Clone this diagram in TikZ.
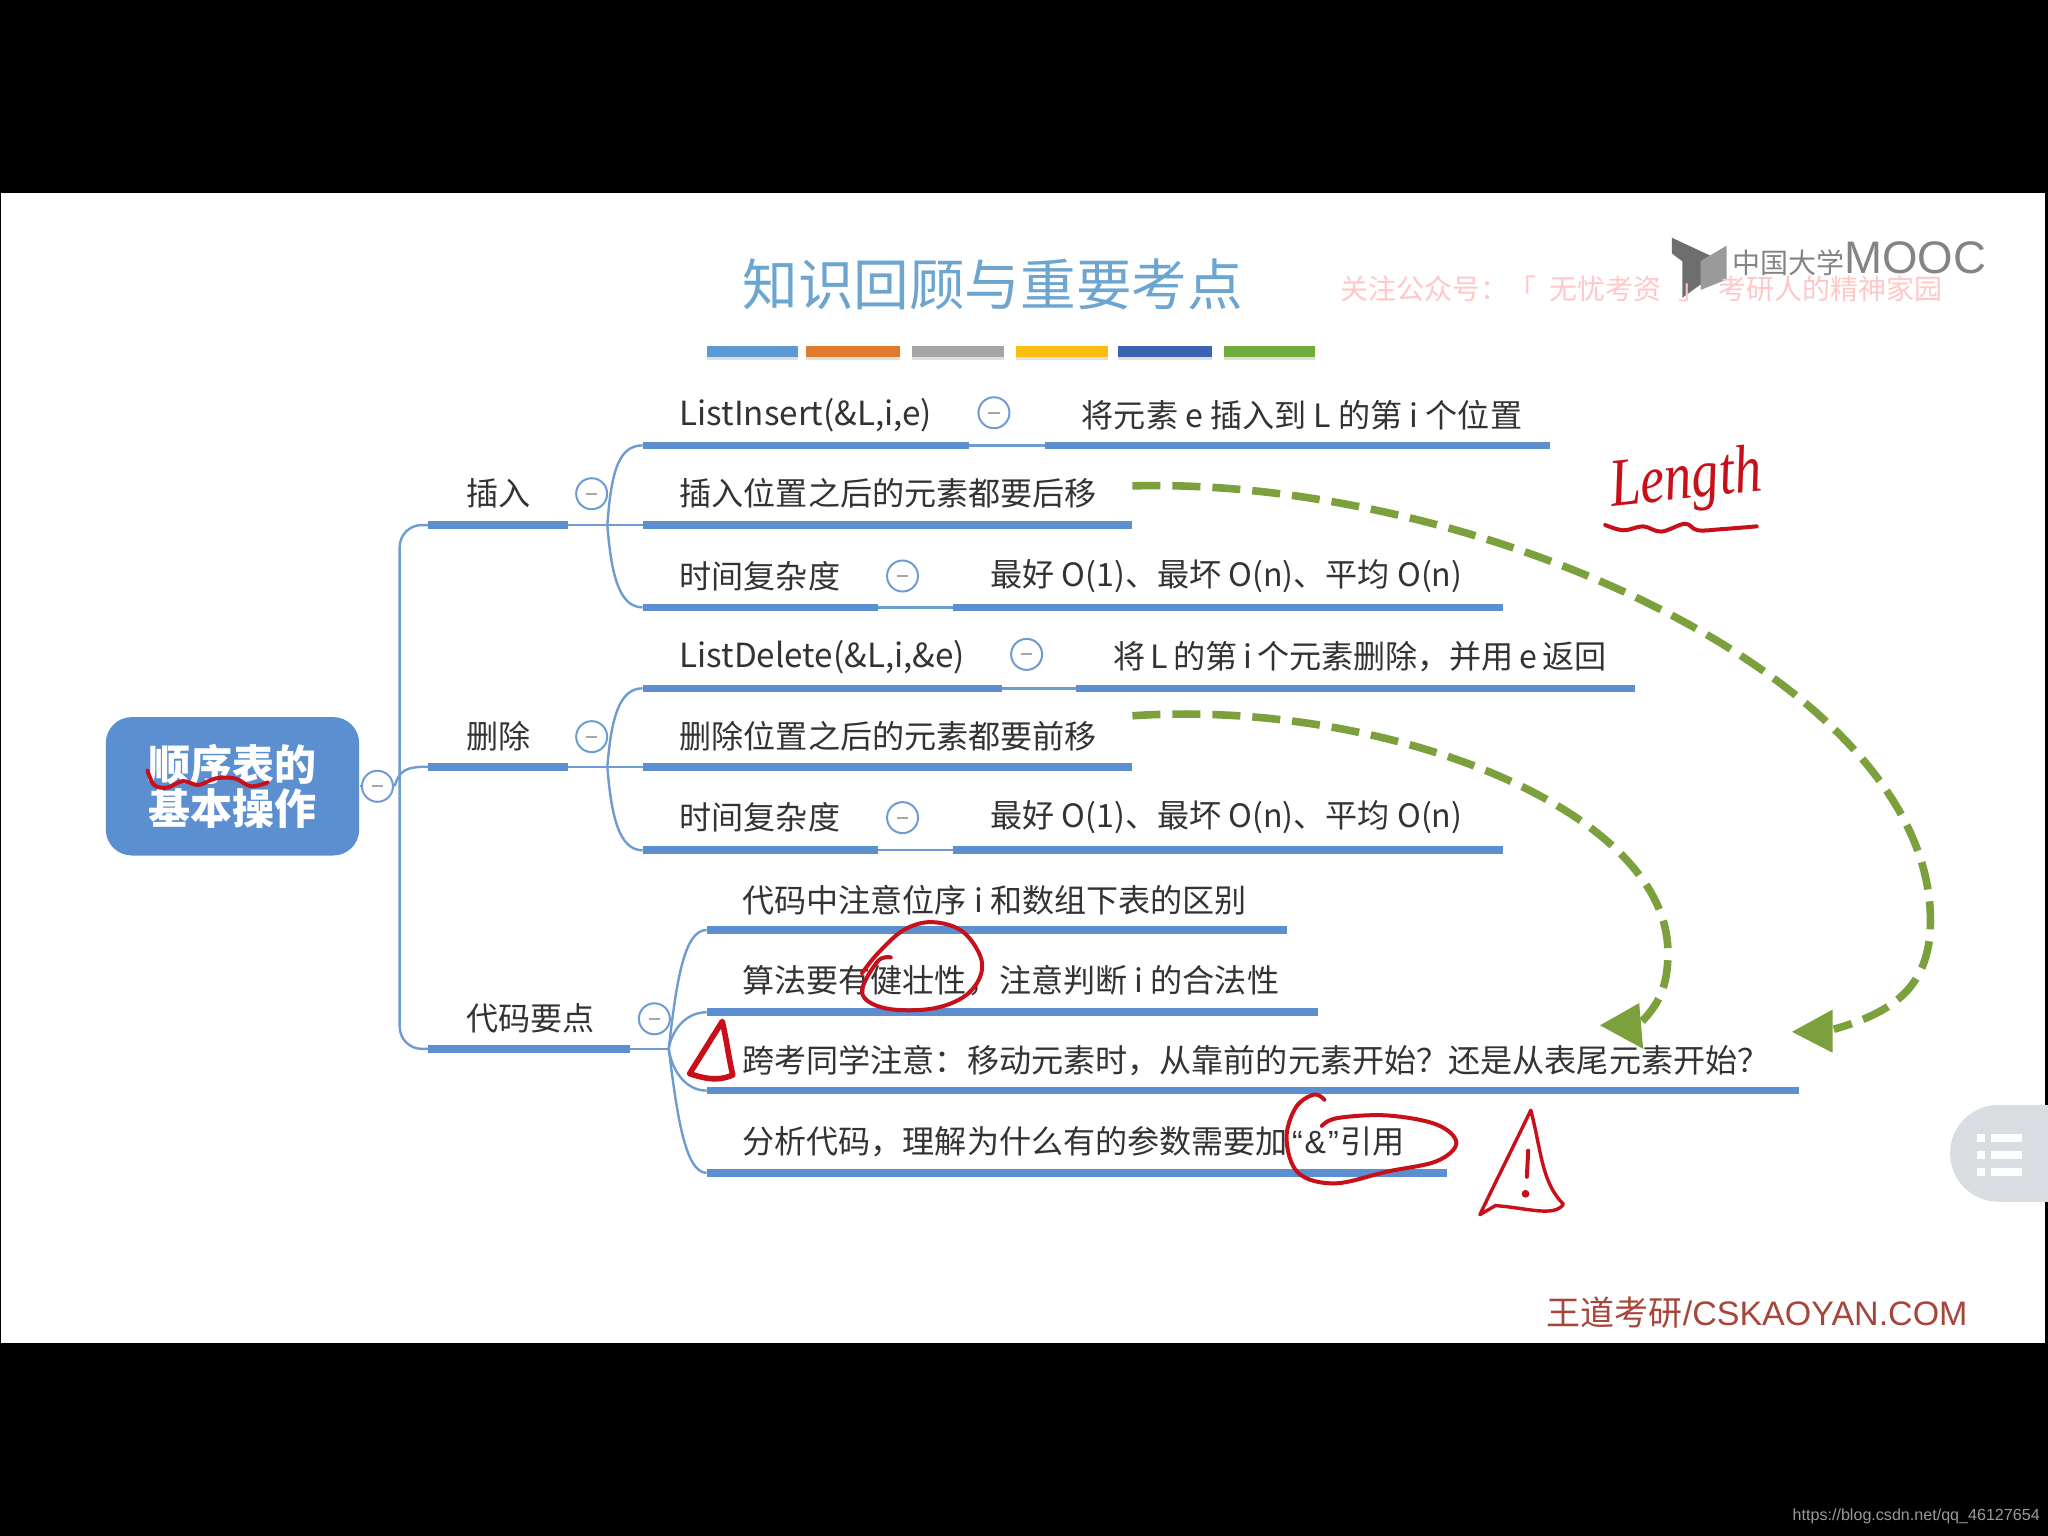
\documentclass[tikz,border=0pt]{standalone}
\usepackage{fontspec}
\setmainfont{Noto Sans CJK SC}
\newfontfamily\lat{Liberation Sans}
\newfontfamily\hand{Liberation Serif}
\definecolor{barblue}{HTML}{5B8FD0}
\definecolor{linkblue}{HTML}{6F9BD3}
\definecolor{txt}{HTML}{333333}
\definecolor{titleblue}{HTML}{6BA5D0}
\definecolor{dashgreen}{HTML}{7BA03C}
\definecolor{ink}{HTML}{C8101A}
\definecolor{pill}{HTML}{D9DCE0}
\definecolor{footc}{HTML}{A8453A}
\definecolor{logoc}{HTML}{6E6E6E}
\tikzset{
  x=0.653pt,y=-0.653pt,
  bar/.style={draw=barblue,line width=3.8pt},
  link/.style={draw=linkblue,line width=1.2pt},
  lab/.style={anchor=west,inner sep=0pt,text=txt,font=\fontsize{16.05pt}{18pt}\selectfont},
  codelab/.style={lab,font=\fontsize{16.6pt}{18pt}\selectfont},
  mc/.style={circle,draw=linkblue,line width=1pt,fill=white,minimum size=15.5pt,inner sep=0pt,
    path picture={\draw[gray!70,line width=1pt] ([xshift=-2.8pt]path picture bounding box.center)--([xshift=2.8pt]path picture bounding box.center);}},
  flow/.style={draw=dashgreen,line width=3.8pt,dash pattern=on 14pt off 6pt},
  head/.style={fill=dashgreen,draw=none},
  pen/.style={draw=ink,line width=2pt,line cap=round,line join=round},
}
\begin{document}
\begin{tikzpicture}
\useasboundingbox (0,0) rectangle (1568,1176);
\fill[black] (0,0) rectangle (1568,1176);
\fill[white] (1,148) rectangle (1566,1028);

% header
\node[inner sep=0pt,font=\fontsize{27.8pt}{30pt}\selectfont,text=titleblue] (title) at (760,218) {知识回顾与重要考点};
\fill[logoc] (1280,182) -- (1310,196) -- (1310,212) -- (1288,228) -- (1288,200) -- (1280,194) -- cycle;
\fill[logoc!70] (1302,200) -- (1322,188) -- (1322,214) -- (1302,222) -- cycle;
\node[anchor=west,inner sep=0pt,font=\fontsize{14pt}{16pt}\selectfont,text=logoc!85] (mooc) at (1326,198) {中国大学{\lat\fontsize{22.8pt}{24pt}\selectfont MOOC}};
\node[anchor=west,inner sep=0pt,font=\fontsize{14pt}{16pt}\selectfont,text=red!22!white] (wm) at (1026,221) {关注公众号：「\hspace{6.5pt}无忧考资\hspace{8.5pt}」\hspace{6pt}考研人的精神家园};
\foreach \a/\b/\c in {541/611/5B9BD5,617/689/E07B2E,698/769/A5A5A5,778/848/F8BF10,856/928/3C62B0,937/1007/6FAE3C}{
  \definecolor{tabc}{HTML}{\c}
  \fill[gray!25] (\a,270) rectangle (\b,276);
  \fill[tabc] (\a,265) rectangle (\b,273);
}

% named points of the tree
\coordinate (a1) at (492,341); \coordinate (a1b) at (742,341); \coordinate (a1c) at (800,341); \coordinate (a1d) at (1187,341);
\coordinate (a2) at (492,402); \coordinate (a2b) at (867,402);
\coordinate (a3) at (492,465); \coordinate (a3b) at (672,465); \coordinate (a3c) at (730,465); \coordinate (a3d) at (1151,465);
\coordinate (b1) at (492,527); \coordinate (b1b) at (767,527); \coordinate (b1c) at (824,527); \coordinate (b1d) at (1252,527);
\coordinate (b2) at (492,587); \coordinate (b2b) at (867,587);
\coordinate (b3) at (492,651); \coordinate (b3b) at (672,651); \coordinate (b3c) at (730,651); \coordinate (b3d) at (1151,651);
\coordinate (c1) at (541,712); \coordinate (c1b) at (985,712);
\coordinate (c2) at (541,775); \coordinate (c2b) at (1009,775);
\coordinate (c3) at (541,835); \coordinate (c3b) at (1377,835);
\coordinate (c4) at (541,898); \coordinate (c4b) at (1108,898);
\coordinate (ins) at (328,402); \coordinate (insb) at (435,402);
\coordinate (del) at (328,587); \coordinate (delb) at (435,587);
\coordinate (cod) at (328,803); \coordinate (codb) at (482,803);
\coordinate (jA) at (465,402); \coordinate (jB) at (465,587); \coordinate (jC) at (512,803);
\coordinate (spineT) at (306,402); \coordinate (spineB) at (306,803); \coordinate (spineM) at (302,602);

% thin links
\draw[link,rounded corners=11pt] (ins) -- (spineT) -- (spineB) -- (cod);
\draw[link] (spineM) .. controls (306,590) and (310,587) .. (del);
\draw[link] (insb) -- (a2);
\draw[link] (delb) -- (b2);
\draw[link] (codb) -- (jC);
\draw[link] (jA) .. controls (468,360) and (474,341) .. (a1);
\draw[link] (jA) .. controls (468,440) and (474,465) .. (a3);
\draw[link] (jB) .. controls (468,550) and (474,527) .. (b1);
\draw[link] (jB) .. controls (468,625) and (474,651) .. (b3);
\draw[link] (jC) .. controls (518,750) and (524,712) .. (c1);
\draw[link] (jC) .. controls (514,790) and (524,775) .. (c2);
\draw[link] (jC) .. controls (514,818) and (524,835) .. (c3);
\draw[link] (jC) .. controls (518,850) and (524,898) .. (c4);
\draw[link] (a1b) -- (a1c);
\draw[link] (a3b) -- (a3c);
\draw[link] (b1b) -- (b1c);
\draw[link] (b3b) -- (b3c);

% bars
\draw[bar] (ins) -- (insb);
\draw[bar] (del) -- (delb);
\draw[bar] (cod) -- (codb);
\draw[bar] (a1) -- (a1b);
\draw[bar] (a1c) -- (a1d);
\draw[bar] (a2) -- (a2b);
\draw[bar] (a3) -- (a3b);
\draw[bar] (a3c) -- (a3d);
\draw[bar] (b1) -- (b1b);
\draw[bar] (b1c) -- (b1d);
\draw[bar] (b2) -- (b2b);
\draw[bar] (b3) -- (b3b);
\draw[bar] (b3c) -- (b3d);
\draw[bar] (c1) -- (c1b);
\draw[bar] (c2) -- (c2b);
\draw[bar] (c3) -- (c3b);
\draw[bar] (c4) -- (c4b);

% root
\node[fill=barblue,rounded corners=13pt,minimum width=126.7pt,minimum height=69.2pt,inner sep=0pt,
      align=center,text=white,font=\bfseries\fontsize{21pt}{22pt}\selectfont] (root) at (178,602) {顺序表的\\基本操作};
\draw[link] (root.east) -- (spineM);
\node[mc] (mroot) at (289,602) {};

% collapse marks
\node[mc] (m1) at (453,378) {};
\node[mc] (m2) at (453,564) {};
\node[mc] (m3) at (501,780) {};
\node[mc] (m4) at (761,316) {};
\node[mc] (m5) at (691,441) {};
\node[mc] (m6) at (786,501) {};
\node[mc] (m7) at (691,626) {};

% labels
\node[lab] (t1) at (357,378) {插入};
\node[lab] (t2) at (357,564) {删除};
\node[lab] (t3) at (357,780) {代码要点};
\node[codelab] (t4) at (520,318) {ListInsert(\&L,i,e)};
\node[lab] (t5) at (828,318) {将元素 e 插入到 L 的第 i 个位置};
\node[lab] (t6) at (520,378) {插入位置之后的元素都要后移};
\node[lab] (t7) at (520,441) {时间复杂度};
\node[lab] (t8) at (758,441) {最好 O(1)、最坏 O(n)、平均 O(n)};
\node[codelab] (t9) at (520,503) {ListDelete(\&L,i,\&e)};
\node[lab] (t10) at (852,503) {将\,L\,的第\,i\,个元素删除，并用\,e\,返回};
\node[lab] (t11) at (520,564) {删除位置之后的元素都要前移};
\node[lab] (t12) at (520,626) {时间复杂度};
\node[lab] (t13) at (758,626) {最好 O(1)、最坏 O(n)、平均 O(n)};
\node[lab] (t14) at (568,689) {代码中注意位序 i 和数组下表的区别};
\node[lab] (t15) at (568,751) {算法要有健壮性，注意判断 i 的合法性};
\node[lab] (t16) at (568,812) {跨考同学注意：移动元素时，从靠前的元素开始？还是从表尾元素开始？};
\node[lab] (t17) at (568,874) {分析代码，理解为什么有的参数需要加\hspace{2pt}{\lat “\hspace{1pt}\&\hspace{1pt}”}\hspace{1pt}引用};

% green dashed arrows
\coordinate (g1s) at (867,372); \coordinate (g1e) at (1404,788);
\coordinate (g2s) at (867,548); \coordinate (g2e) at (1254,785);
\draw[flow] (g1s) .. controls (1130,365) and (1478,520) .. (1478,705) .. controls (1478,755) and (1450,775) .. (g1e);
\draw[flow] (g2s) .. controls (1060,535) and (1278,620) .. (1277,730) .. controls (1277,755) and (1270,770) .. (g2e);
\fill[head] (1372,790) -- (1403,773) -- (1403,806) -- cycle;
\fill[head] (1225,785) -- (1255,768) -- (1258,803) -- cycle;

% pen marks
\node[inner sep=0pt,rotate=6,xscale=0.88,yscale=1.1,font=\hand\itshape\fontsize{31pt}{32pt}\selectfont,text=ink] (len) at (1291,369) {Length};
\draw[pen] plot[smooth,tension=.6] coordinates {(1229,402) (1243,406) (1258,403) (1272,407) (1290,401) (1300,406) (1320,405) (1345,403)};
\draw[pen] plot[smooth,tension=.6] coordinates {(113,590) (118,601) (128,603) (140,598) (152,601) (165,596) (180,596) (192,602) (205,599)};
\draw[pen] plot[smooth,tension=.6] coordinates {(682,733) (672,736) (660,760) (678,772) (715,772) (742,760) (752,738) (738,714) (714,706) (692,712) (672,730) (660,745)};
\draw[pen] plot[smooth,tension=.6] coordinates {(1014,842) (1006,838) (992,848) (985,872) (994,898) (1022,906) (1062,897) (1100,889) (1115,875) (1100,861) (1062,854) (1024,856) (1012,862)};
\draw[pen,line width=2.8pt] (553,782) -- (528,822) .. controls (540,826) and (550,828) .. (561,823) .. controls (558,810) and (556,795) .. (553,782) -- cycle;
\draw[pen,line width=1.7pt] (1133,930) .. controls (1145,905) and (1160,875) .. (1172,850) .. controls (1180,880) and (1180,905) .. (1197,922) .. controls (1190,932) and (1170,925) .. (1145,923) -- (1133,930);
\draw[pen] (1170,881) -- (1169,901);
\fill[ink] (1168,914) circle (3);

% side pill
\fill[pill] (1530,883) circle (37);
\fill[pill] (1530,846) rectangle (1568,920);
\foreach \y in {871,884,897}{
  \fill[white] (1514,\y-3) rectangle (1520,\y+3);
  \fill[white] (1524,\y-3) rectangle (1548,\y+3);
}

% footers
\node[anchor=west,inner sep=0pt,font=\fontsize{17pt}{18pt}\selectfont,text=footc] (foot) at (1184,1005) {王道考研{\lat /CSKAOYAN.COM}};
\node[anchor=east,inner sep=0pt,font=\lat\fontsize{8.05pt}{10pt}\selectfont,text=gray!80] (url) at (1562,1161) {https://blog.csdn.net/qq\_46127654};
\end{tikzpicture}
\end{document}
